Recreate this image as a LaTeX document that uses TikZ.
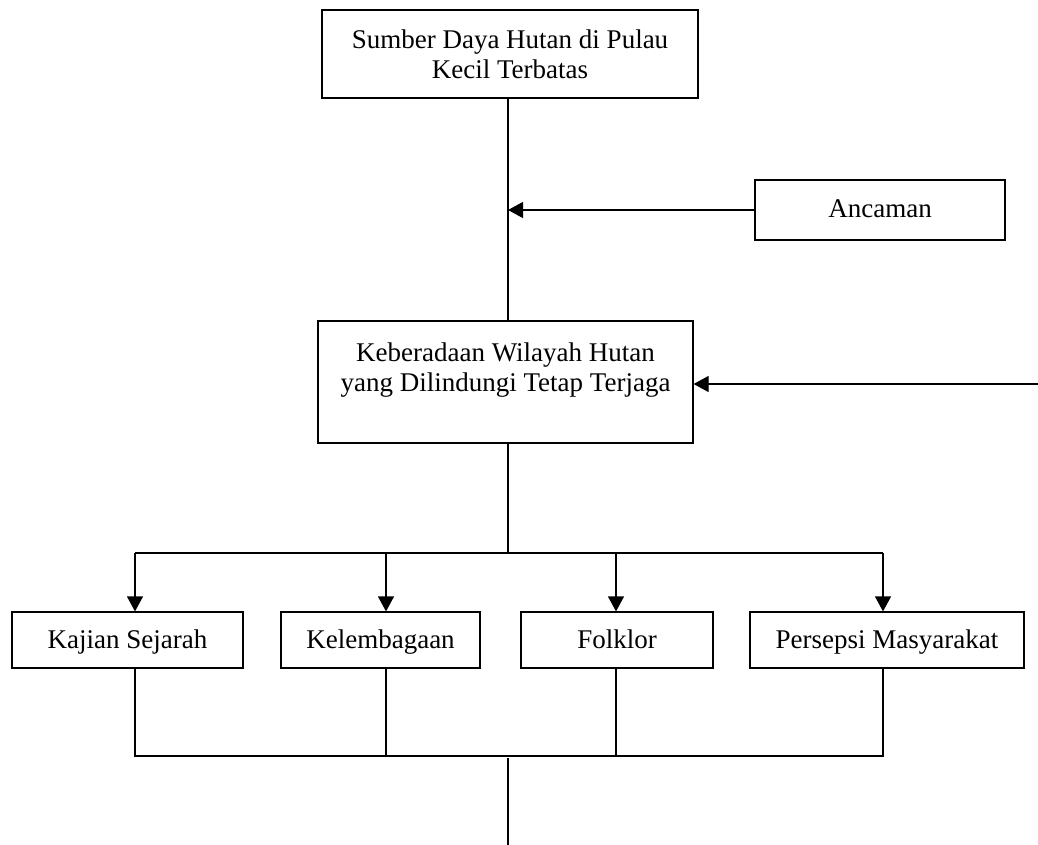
\documentclass[tikz,border=0pt]{standalone}
\usepackage{fontspec}
\setmainfont{Liberation Serif}
\usetikzlibrary{arrows.meta}
\begin{document}
\begin{tikzpicture}[x=1pt,y=1pt,
  every node/.style={font=\fontsize{27}{30}\selectfont},
  box/.style={draw,line width=1.2pt,align=center,inner sep=0pt},
  onebox/.style={box,text height=20pt,text depth=4pt},
  ln/.style={line width=1.2pt},
  arr/.style={line width=1.2pt,-{Triangle[length=15pt,width=16pt]}}]
\useasboundingbox (0,0) rectangle (1038,-845);
\node[box,minimum width=376,minimum height=88] (b1) at (510,-54) {Sumber Daya Hutan di Pulau\\Kecil Terbatas};
\node[onebox,minimum width=250,minimum height=60] (anc) at (880,-210) {Ancaman};
\node[box,minimum width=375,minimum height=122] (b2) at (505.5,-382) {Keberadaan Wilayah Hutan\\yang Dilindungi Tetap Terjaga\\\mbox{}};
\node[onebox,minimum width=231,minimum height=56] (k1) at (127.5,-640) {Kajian Sejarah};
\node[onebox,minimum width=199,minimum height=56] (k2) at (380.5,-640) {Kelembagaan};
\node[onebox,minimum width=192,minimum height=56] (k3) at (617,-640) {Folklor};
\node[onebox,minimum width=274,minimum height=56] (k4) at (887,-640) {Persepsi Masyarakat};
% spine
\coordinate (s1) at (508,-98);
\draw[ln] (s1 |- b1.south) -- (s1 |- b2.north);
\draw[arr] (anc.west) -- (anc.west -| s1);
\coordinate (r) at (1038,-384);
\draw[arr] (r) -- (r -| b2.east);
% branch top
\coordinate (t) at (508,-553);
\draw[ln] (s1 |- b2.south) -- (t);
\coordinate (x1) at (135,-553);
\coordinate (x2) at (386,-553);
\coordinate (x3) at (616,-553);
\coordinate (x4) at (883,-553);
\draw[ln] (x1) -- (x4);
\draw[arr] (x1) -- (x1 |- k1.north);
\draw[arr] (x2) -- (x2 |- k2.north);
\draw[arr] (x3) -- (x3 |- k3.north);
\draw[arr] (x4) -- (x4 |- k4.north);
% branch bottom
\coordinate (y1) at (135,-756);
\coordinate (y2) at (386,-756);
\coordinate (y3) at (616,-756);
\coordinate (y4) at (883,-756);
\draw[ln] (y1 |- k1.south) -- (y1) -- (y4) -- (y4 |- k4.south);
\draw[ln] (y2 |- k2.south) -- (y2);
\draw[ln] (y3 |- k3.south) -- (y3);
\coordinate (m) at (508,-758);
\coordinate (e) at (508,-845);
\draw[ln] (m) -- (e);
\end{tikzpicture}
\end{document}
